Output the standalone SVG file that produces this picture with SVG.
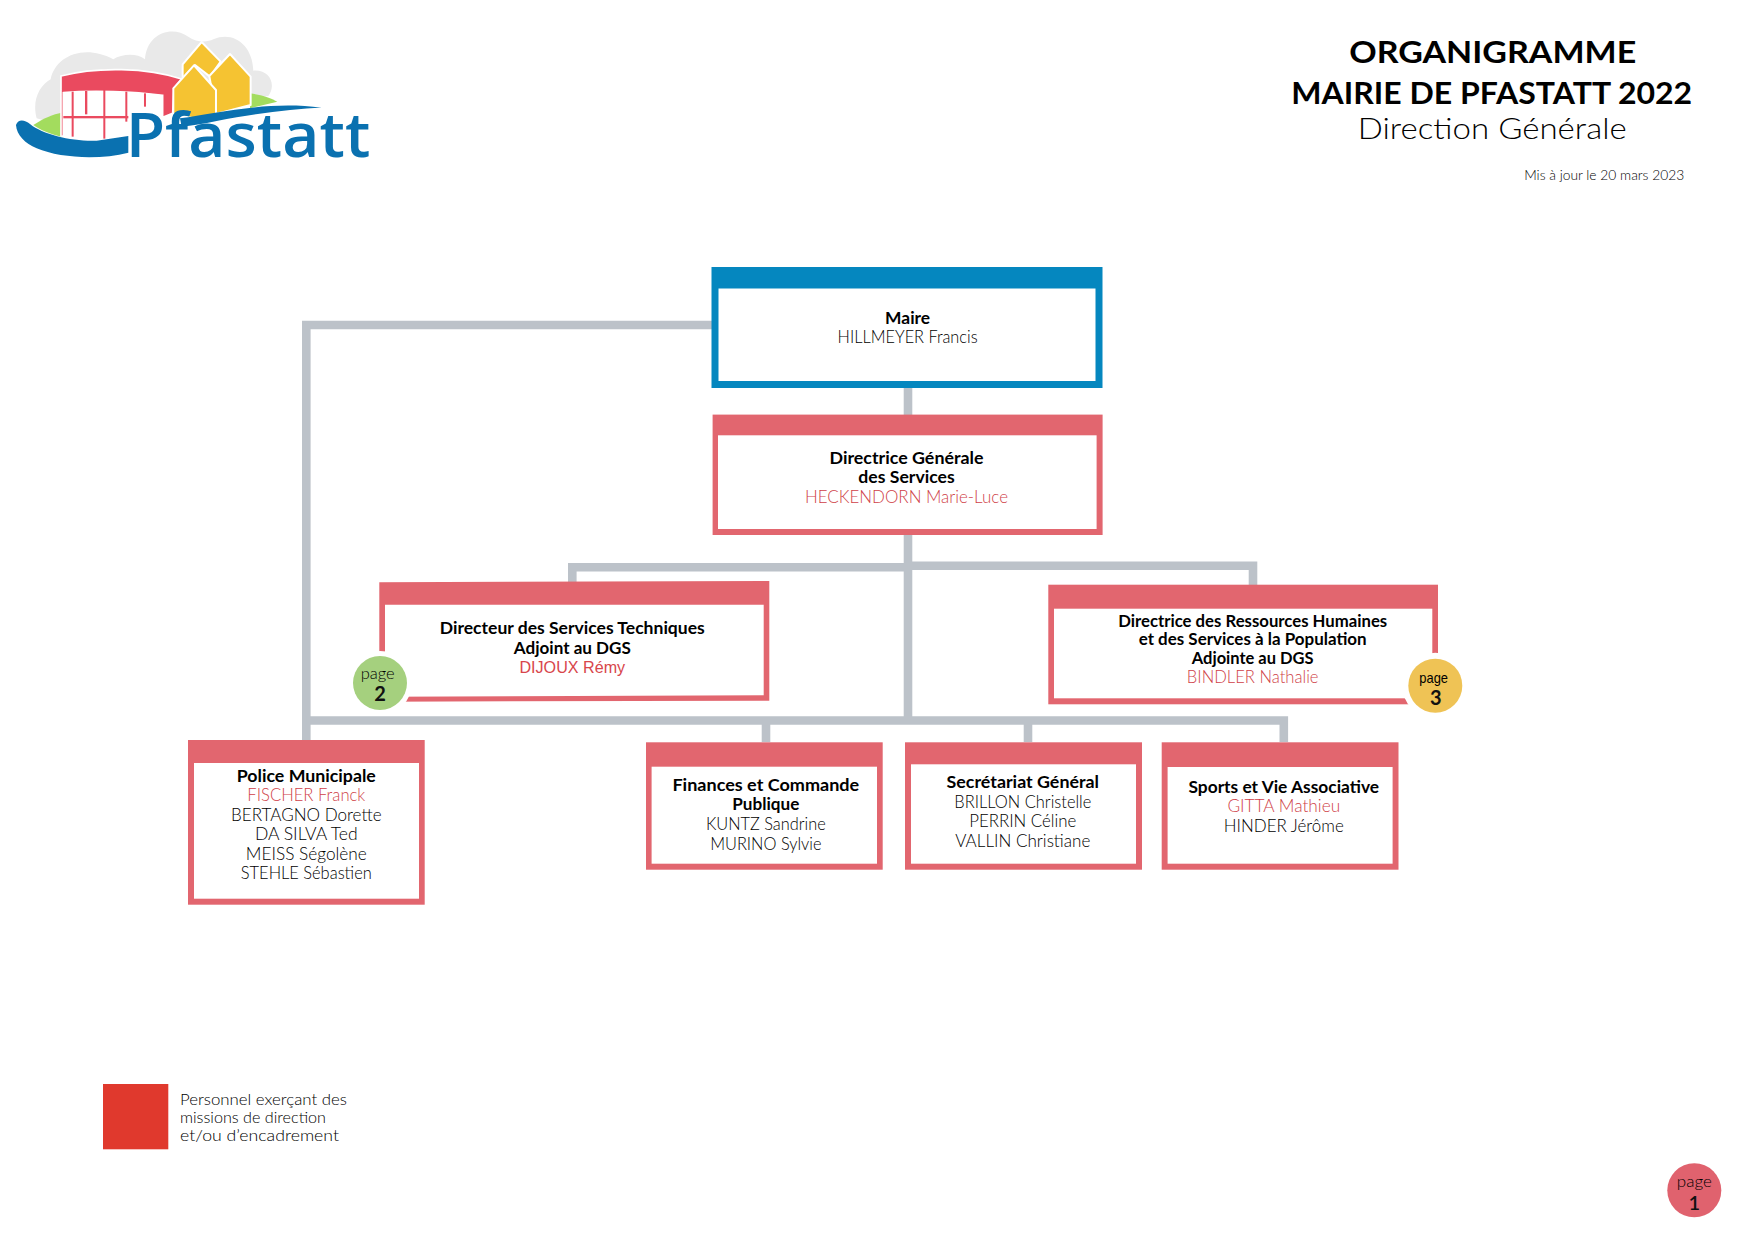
<svg xmlns="http://www.w3.org/2000/svg" width="1755" height="1241" viewBox="0 0 1755 1241">
<style>
text{font-family:"Lato","Liberation Sans",sans-serif;text-anchor:middle;font-size:17px;fill:#000;font-weight:400}
.b{font-weight:700;fill:#000}
.r{fill:#cf3f48;font-weight:300}
.l{font-weight:300;fill:#000}
.red{fill:#e2666f}
.blue{fill:#0587bf}
.w{fill:#fff}
.c{fill:none;stroke:#bcc2c9;stroke-width:8.6}
.p{font-size:15px}
.n{font-size:20px;font-weight:700;fill:#111}
</style>
<rect width="1755" height="1241" fill="#fff"/>
<g id="logo" transform="translate(0,10) scale(0.3333)">
<path fill="#e9e9e9" d="M110,325C95,270 120,225 152,208C165,140 250,100 340,148C365,132 410,128 435,148C440,70 515,45 565,80C590,97 620,98 640,88C700,62 758,105 760,182C810,178 830,225 805,258L520,300L180,345Z"/>
<path fill="#a3dc5e" d="M100,345C130,325 160,312 185,308L190,382C150,372 120,360 100,345Z"/>
<path fill="#a3dc5e" d="M750,250C790,255 815,265 832,275L750,295Z"/>
<path fill="#fff" d="M190,245H490V330L385,345V385H190Z"/>
<path fill="#ea4a5f" stroke="#fff" stroke-width="5" d="M183,198C290,170 440,172 545,207L522,235L518,310L488,322L488,256C400,245 280,240 190,248L190,380L183,378Z"/>
<g fill="#ea4a5f"><rect x="215" y="245" width="6" height="135"/><rect x="255" y="243" width="7" height="70"/><rect x="310" y="240" width="6" height="146"/><rect x="376" y="245" width="6" height="90"/><rect x="432" y="250" width="6" height="40"/><rect x="190" y="318" width="195" height="7"/></g>
<g fill="#f5c332" stroke="#fff" stroke-width="6" stroke-linejoin="round">
<path d="M548,205V163L605,96L662,155L630,200L585,165Z"/>
<path d="M628,198L690,132L752,200V285L648,312Z"/>
<path d="M520,235L582,166L648,240V315L580,325L520,312Z"/>
</g>
<path fill="#0a71b0" d="M48,345C55,325 75,330 90,342C130,375 220,395 290,392L385,378V428C300,450 180,445 110,415C75,400 50,375 48,345Z"/>
<path fill="#0a71b0" d="M540,325C650,310 800,272 965,293C880,296 770,310 650,333C610,342 575,346 545,350Z"/>
<text x="744" y="440" style="font-family:'Open Sans',sans-serif;font-weight:600;font-size:185px;fill:#0a71b0" textLength="734" lengthAdjust="spacingAndGlyphs">Pfastatt</text>
</g>
<g id="title">
<text x="1492.7" y="62.7" class="b" style="font-size:31px" textLength="287" lengthAdjust="spacingAndGlyphs">ORGANIGRAMME</text>
<text x="1491.7" y="104.3" class="b" style="font-size:31px" textLength="401" lengthAdjust="spacingAndGlyphs">MAIRIE DE PFASTATT 2022</text>
<text x="1492.2" y="139.3" class="l" style="font-size:30px" textLength="269" lengthAdjust="spacingAndGlyphs">Direction Générale</text>
<text x="1604.2" y="180" class="l" style="font-size:13.5px" textLength="160" lengthAdjust="spacingAndGlyphs">Mis à jour le 20 mars 2023</text>
</g>
<g id="connectors">
<path class="c" d="M712,325H306.3V740"/>
<path class="c" d="M908,388V415"/>
<path class="c" d="M908,534V720.5"/>
<path class="c" d="M572.3,583V567.2H908"/>
<path class="c" d="M908,565.7H1253V585"/>
<path class="c" d="M306.3,720.5H1283.8V742"/>
<path class="c" d="M766,720.5V742"/>
<path class="c" d="M1028,720.5V742"/>
</g>
<g id="maire">
<rect class="blue" x="711.5" y="267" width="391" height="121"/>
<rect class="w" x="718.5" y="288.5" width="377" height="92.5"/>
<text x="907.6" y="323.7" class="b" textLength="45" lengthAdjust="spacingAndGlyphs">Maire</text>
<text x="907.6" y="343" class="l" textLength="140" lengthAdjust="spacingAndGlyphs">HILLMEYER Francis</text>
</g>
<g id="dgs">
<rect class="red" x="712.6" y="414.6" width="390" height="120.4"/>
<rect class="w" x="718" y="435.3" width="378.6" height="93.7"/>
<text x="906.5" y="463.7" class="b" textLength="154" lengthAdjust="spacingAndGlyphs">Directrice Générale</text>
<text x="906.5" y="482.7" class="b" textLength="96.4" lengthAdjust="spacingAndGlyphs">des Services</text>
<text x="906.5" y="502.7" class="r" textLength="203" lengthAdjust="spacingAndGlyphs">HECKENDORN Marie-Luce</text>
</g>
<g id="dst" transform="translate(0,1)">
<path class="red" d="M379.3,581.3L769.3,580V699.7L379.3,700.7Z"/>
<path class="w" d="M385,603.7H763.7V694.3L385,695.7Z"/>
<text x="572.3" y="632.7" class="b" textLength="265" lengthAdjust="spacingAndGlyphs">Directeur des Services Techniques</text>
<text x="572.3" y="652.7" class="b" textLength="117" lengthAdjust="spacingAndGlyphs">Adjoint au DGS</text>
<text x="572.3" y="672.3" style="font-family:'Liberation Sans',sans-serif;fill:#d8464b" textLength="105.7" lengthAdjust="spacingAndGlyphs">DIJOUX Rémy</text>
<circle class="w" cx="380" cy="682" r="32"/>
<circle cx="380" cy="682" r="27" fill="#a5d07e"/>
<text x="377.7" y="677.7" class="p l" textLength="34" lengthAdjust="spacingAndGlyphs">page</text>
<text x="380" y="700" class="n">2</text>
</g>
<g id="drh" transform="translate(0,1)">
<rect class="red" x="1048.3" y="583.7" width="389.7" height="119.6"/>
<rect class="w" x="1054" y="607.7" width="378.3" height="89.6"/>
<text x="1252.7" y="626" class="b" textLength="269" lengthAdjust="spacingAndGlyphs">Directrice des Ressources Humaines</text>
<text x="1252.7" y="644.3" class="b" textLength="228" lengthAdjust="spacingAndGlyphs">et des Services à la Population</text>
<text x="1252.7" y="663.3" class="b" textLength="121.7" lengthAdjust="spacingAndGlyphs">Adjointe au DGS</text>
<text x="1252.7" y="682.3" class="r" textLength="131.7" lengthAdjust="spacingAndGlyphs">BINDLER Nathalie</text>
<circle class="w" cx="1435.3" cy="684.7" r="33"/>
<circle cx="1435.3" cy="684.7" r="27" fill="#efc355"/>
<text x="1433.7" y="682.3" class="p" style="font-family:'Liberation Sans',sans-serif" textLength="28.7" lengthAdjust="spacingAndGlyphs">page</text>
<text x="1435.7" y="703.7" class="n">3</text>
</g>
<g id="police" transform="translate(0,1)">
<rect class="red" x="188" y="739" width="236.7" height="164.7"/>
<rect class="w" x="194" y="762" width="225" height="135.7"/>
<text x="306.3" y="780.7" class="b" textLength="139" lengthAdjust="spacingAndGlyphs">Police Municipale</text>
<text x="306.3" y="800" class="r" textLength="118" lengthAdjust="spacingAndGlyphs">FISCHER Franck</text>
<text x="306.3" y="820" class="l" textLength="150.5" lengthAdjust="spacingAndGlyphs">BERTAGNO Dorette</text>
<text x="306.3" y="839.3" class="l" textLength="102.8" lengthAdjust="spacingAndGlyphs">DA SILVA Ted</text>
<text x="306.3" y="858.7" class="l" textLength="121" lengthAdjust="spacingAndGlyphs">MEISS Ségolène</text>
<text x="306.3" y="878.3" class="l" textLength="131" lengthAdjust="spacingAndGlyphs">STEHLE Sébastien</text>
</g>
<g id="finances" transform="translate(0,1)">
<rect class="red" x="646" y="741.3" width="236.7" height="127.4"/>
<rect class="w" x="651.6" y="765.7" width="225.4" height="97"/>
<text x="765.8" y="789.7" class="b" textLength="186.8" lengthAdjust="spacingAndGlyphs">Finances et Commande</text>
<text x="765.8" y="808.7" class="b" textLength="67" lengthAdjust="spacingAndGlyphs">Publique</text>
<text x="765.8" y="829" class="l" textLength="119.8" lengthAdjust="spacingAndGlyphs">KUNTZ Sandrine</text>
<text x="765.8" y="848.7" class="l" textLength="111.3" lengthAdjust="spacingAndGlyphs">MURINO Sylvie</text>
</g>
<g id="secretariat" transform="translate(0,1)">
<rect class="red" x="905" y="741.3" width="237" height="127.4"/>
<rect class="w" x="911" y="763.3" width="225" height="99.4"/>
<text x="1022.8" y="787" class="b" textLength="152.4" lengthAdjust="spacingAndGlyphs">Secrétariat Général</text>
<text x="1022.8" y="807" class="l" textLength="137" lengthAdjust="spacingAndGlyphs">BRILLON Christelle</text>
<text x="1022.8" y="826" class="l" textLength="107" lengthAdjust="spacingAndGlyphs">PERRIN Céline</text>
<text x="1022.8" y="845.7" class="l" textLength="135" lengthAdjust="spacingAndGlyphs">VALLIN Christiane</text>
</g>
<g id="sports" transform="translate(0,1)">
<rect class="red" x="1161.7" y="741.3" width="236.8" height="127.4"/>
<rect class="w" x="1167.6" y="766" width="225" height="96.7"/>
<text x="1283.8" y="792" class="b" textLength="190.7" lengthAdjust="spacingAndGlyphs">Sports et Vie Associative</text>
<text x="1283.8" y="811" class="r" textLength="112.8" lengthAdjust="spacingAndGlyphs">GITTA Mathieu</text>
<text x="1283.8" y="830.7" class="l" textLength="120" lengthAdjust="spacingAndGlyphs">HINDER Jérôme</text>
</g>
<g id="legend" transform="translate(0,1)">
<rect x="103" y="1083" width="65.3" height="65.3" fill="#e0392d"/>
<text x="180" y="1104" class="l" style="text-anchor:start;font-size:15.5px" textLength="167" lengthAdjust="spacingAndGlyphs">Personnel exerçant des</text>
<text x="180" y="1122.2" class="l" style="text-anchor:start;font-size:15.5px" textLength="146" lengthAdjust="spacingAndGlyphs">missions de direction</text>
<text x="180" y="1139.5" class="l" style="text-anchor:start;font-size:15.5px" textLength="159" lengthAdjust="spacingAndGlyphs">et/ou d’encadrement</text>
</g>
<g id="page1" transform="translate(0,1)">
<circle cx="1694.3" cy="1189.3" r="27" fill="#e0626e"/>
<text x="1694.3" y="1185.7" class="p l" textLength="35" lengthAdjust="spacingAndGlyphs">page</text>
<text x="1694.3" y="1209" class="n" style="font-weight:600">1</text>
</g>
</svg>
